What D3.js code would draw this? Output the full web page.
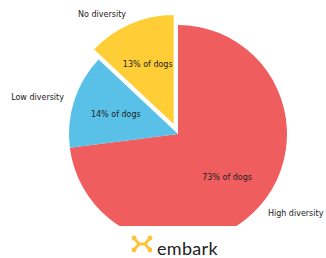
<!DOCTYPE html>
<html>
<head>
<meta charset="utf-8">
<script src="https://cdn.jsdelivr.net/npm/d3@7"></script>
<style>
  body { margin: 0; background: #fff; }
  text { font-family: "DejaVu Sans", sans-serif; }
</style>
</head>
<body>
<svg id="chart" width="326" height="258"></svg>
<script>
// data
let labels = ["High diversity", "Low diversity", "No diversity"],
  values = [73, 14, 13],
  explode = [0, 0, 0.1],
  colors = ["#f05d5e", "#59c1e8", "#ffce36"]

let width = 326,
  height = 258,
  cx = 178,
  cy = 134,
  radius = 109,
  svg = d3.select("#chart")

let pie = d3.pie().sort(null).value(d => d.value)
let arc = d3.arc().innerRadius(0).outerRadius(radius)
let slices = pie(labels.map((l, i) => ({ label: l, value: values[i], explode: explode[i], color: colors[i] })))

// position at distance k*r along the middle angle, measured from the slice's own centre
function polar(d, k) {
  let a = (d.startAngle + d.endAngle) / 2
  return [Math.sin(a) * radius * k, -Math.cos(a) * radius * k]
}

svg.append("clipPath").attr("id", "clip")
  .append("rect").attr("x", 0).attr("y", 0).attr("width", width).attr("height", 226)

let g = svg.append("g").attr("clip-path", "url(#clip)")
  .append("g").attr("transform", `translate(${cx},${cy})`)

let wedge = g.selectAll("g.slice")
  .data(slices).enter()
  .append("g")
  .attr("class", "slice")
  .attr("transform", d => "translate(" + polar(d, d.data.explode) + ")")

wedge.append("path")
  .attr("d", arc)
  .attr("fill", d => d.data.color)

wedge.append("text")
  .attr("x", d => polar(d, 0.6)[0])
  .attr("y", d => polar(d, 0.6)[1])
  .attr("dy", "0.35em")
  .attr("text-anchor", "middle")
  .attr("font-size", 8)
  .attr("fill", "#222")
  .text(d => d.data.value + "% of dogs")

wedge.append("text")
  .attr("x", d => polar(d, 1.1)[0])
  .attr("y", d => polar(d, 1.1)[1])
  .attr("dy", "0.35em")
  .attr("text-anchor", d => polar(d, 1)[0] > 0 ? "start" : "end")
  .attr("font-size", 8)
  .attr("fill", "#222")
  .text(d => d.data.label)

// embark logo
let logo = svg.append("g").attr("transform", "translate(142,244)")
logo.append("path")
  .attr("d", "M-8,-6 L-3,0 L3,0 L8,-6 M-8,6 L-3,0 M3,0 L8,6")
  .attr("fill", "none")
  .attr("stroke", "#fdc33b")
  .attr("stroke-width", 2.8)
  .attr("stroke-linejoin", "round")
logo.selectAll("circle")
  .data([[-8, -6], [-8, 6], [8, -6], [8, 6]]).enter()
  .append("circle")
  .attr("cx", d => d[0]).attr("cy", d => d[1]).attr("r", 2.4)
  .attr("fill", "#fdc33b")
svg.append("text")
  .attr("x", 157)
  .attr("y", 255)
  .attr("font-size", 18)
  .attr("fill", "#222")
  .style("font-family", "Lato, 'Open Sans', sans-serif")
  .style("letter-spacing", "0.3px")
  .text("embark")
</script>
</body>
</html>
